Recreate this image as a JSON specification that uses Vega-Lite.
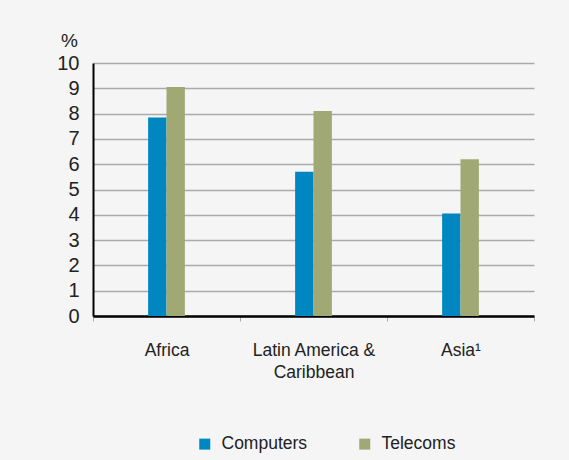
{
  "$schema": "https://vega.github.io/schema/vega-lite/v6.json",
  "autosize": "none",
  "width": 441,
  "height": 253,
  "padding": {"left": 93, "top": 63, "right": 35, "bottom": 144},
  "background": "#f5f5f5",
  "config": {"view": {"stroke": null}, "font": "Liberation Sans"},
  "data": {"values": [
    {"region": "Africa", "type": "Computers", "value": 7.85},
    {"region": "Africa", "type": "Telecoms", "value": 9.05},
    {"region": "Latin America & Caribbean", "type": "Computers", "value": 5.7},
    {"region": "Latin America & Caribbean", "type": "Telecoms", "value": 8.1},
    {"region": "Asia¹", "type": "Computers", "value": 4.05},
    {"region": "Asia¹", "type": "Telecoms", "value": 6.2}
  ]},
  "mark": {"type": "bar"},
  "encoding": {
    "x": {
      "field": "region", "type": "nominal", "sort": null,
      "scale": {"paddingInner": 0, "paddingOuter": 0},
      "axis": {
        "title": null, "labelAngle": 0, "labelFontSize": 17.5, "labelColor": "#222",
        "labelPadding": 20, "labelLineHeight": 22, "labelBaseline": "top",
        "domainColor": "#000", "domainWidth": 2.5,
        "tickBand": "extent", "tickColor": "#aaa", "tickSize": 5, "tickWidth": 1,
        "labelExpr": "datum.value == 'Latin America & Caribbean' ? ['Latin America &', 'Caribbean'] : datum.value"
      }
    },
    "xOffset": {"field": "type", "type": "nominal", "scale": {"domain": ["p1", "p2", "p3", "Computers", "Telecoms", "p4", "p5", "p6"], "paddingInner": 0, "paddingOuter": 0}},
    "y": {
      "field": "value", "type": "quantitative",
      "scale": {"domain": [0, 10], "nice": false},
      "axis": {
        "title": "%", "titleAngle": 0, "titleX": -24, "titleY": -23, "titleAlign": "center",
        "titleBaseline": "middle", "titleFontSize": 19, "titleFontWeight": "normal", "titleColor": "#222",
        "values": [0,1,2,3,4,5,6,7,8,9,10], "labelFontSize": 20, "labelColor": "#222",
        "labelPadding": 14, "ticks": false, "domainColor": "#000", "domainWidth": 2,
        "gridColor": "#aaa", "gridWidth": 1.5
      }
    },
    "color": {
      "field": "type", "type": "nominal",
      "scale": {"domain": ["Computers", "Telecoms"], "range": ["#0087c1", "#a0a873"]},
      "legend": {
        "title": null, "orient": "none", "direction": "horizontal", "legendX": 103, "legendY": 372,
        "symbolType": "square", "symbolSize": 121, "symbolStrokeWidth": 0, "symbolOpacity": 1,
        "labelFontSize": 17.5, "labelColor": "#222", "labelOffset": 8, "columnPadding": 48
      }
    }
  }
}
